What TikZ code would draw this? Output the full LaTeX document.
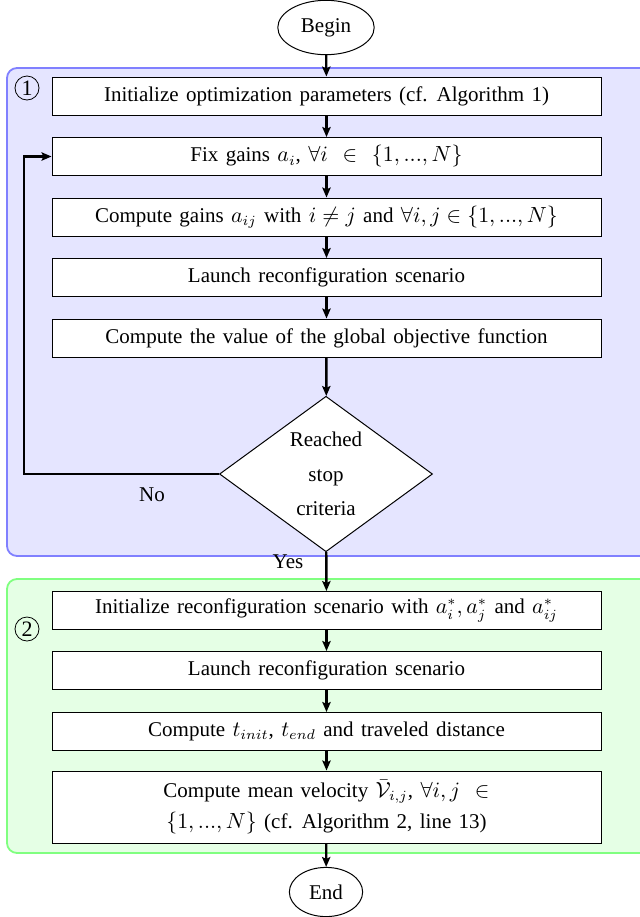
\documentclass[tikz,border=0pt]{standalone}
\usepackage{fontspec}
\setmainfont[WordSpace=1.4]{Liberation Serif}
\usetikzlibrary{shapes.geometric,arrows.meta}
\tikzset{
  txt/.style={font=\fontsize{10.5}{12.6}\selectfont},
  proc/.style={txt, draw=black, fill=white, line width=0.5pt, minimum width=274.5pt, minimum height=19pt, align=center, inner sep=2pt},
  term/.style={txt, ellipse, draw=black, fill=white, line width=0.5pt, inner xsep=4.5pt, inner ysep=5pt},
  decis/.style={txt, diamond, draw=black, fill=white, line width=0.5pt, minimum width=106.5pt, minimum height=72pt, align=center, inner sep=0pt},
  flow/.style={line width=1.2pt, -{Stealth[length=5pt,width=4.2pt,inset=1pt]}},
  panelA/.style={draw=blue!50, fill=blue!10, line width=0.9pt, rounded corners=5pt},
  panelB/.style={draw=green!50, fill=green!10, line width=0.9pt, rounded corners=5pt},
  num/.style={circle, draw=black, line width=0.4pt, minimum size=12pt, inner sep=0pt, font=\fontsize{11}{12}\selectfont},
  lbl/.style={txt}
}
\begin{document}
\begin{tikzpicture}[x=0.5pt,y=-0.5pt]
\useasboundingbox (0,0) rectangle (639,917);
% panels
\draw[panelA] (7,68) rectangle (660,556);
\draw[panelB] (7,579) rectangle (660,853);
\node[num] (n1) at (27,88) {1};
\node[num] (n2) at (27,629) {2};
% terminals
\node[term] (begin) at (326,27.5) {Begin};
\node[term] (end) at (326,892) {End};
% stage 1
\node[proc] (b1) at (326.5,96) {Initialize optimization parameters (cf. Algorithm 1)};
\node[proc] (b2) at (326.5,156.5) {Fix gains $a_i$, $\forall i$ \ $\in$ \ $\{1,...,N\}$};
\node[proc] (b3) at (326.5,217) {Compute gains $a_{ij}$ with $i \neq j$ and $\forall i,j \in \{1,...,N\}$};
\node[proc] (b4) at (326.5,277.5) {Launch reconfiguration scenario};
\node[proc] (b5) at (326.5,338) {Compute the value of the global objective function};
\node[decis] (d) at (326,474) {Reached\\[4.5pt]stop\\[4.5pt]criteria};
% stage 2
\node[proc] (c1) at (326.5,610.5) {Initialize reconfiguration scenario with $a_i^*, a_j^*$ and $a_{ij}^*$};
\node[proc] (c2) at (326.5,670.5) {Launch reconfiguration scenario};
\node[proc] (c3) at (326.5,731.5) {Compute $t_{init}$, $t_{end}$ and traveled distance};
\node[proc, minimum height=36pt] (c4) at (326.5,807) {Compute mean velocity $\bar{\mathcal{V}}_{i,j}$, $\forall i,j$ \ $\in$\\[3pt]$\{1,...,N\}$ (cf. Algorithm 2, line 13)};
% connectors
\draw[flow] (begin) -- (b1);
\draw[flow] (b1) -- (b2);
\draw[flow] (b2) -- (b3);
\draw[flow] (b3) -- (b4);
\draw[flow] (b4) -- (b5);
\draw[flow] (b5) -- (d);
\coordinate (lc1) at (24,474);
\coordinate (lc2) at (24,156.5);
\draw[flow, line width=1.3pt] (d.west) -- (lc1) -- (lc2) -- (b2.west);
\draw[flow] (d) -- (c1);
\draw[flow] (c1) -- (c2);
\draw[flow] (c2) -- (c3);
\draw[flow] (c3) -- (c4);
\draw[flow] (c4) -- (end);
\node[lbl] (no) at (152,495) {No};
\node[lbl] (yes) at (288,562) {Yes};
\end{tikzpicture}
\end{document}
